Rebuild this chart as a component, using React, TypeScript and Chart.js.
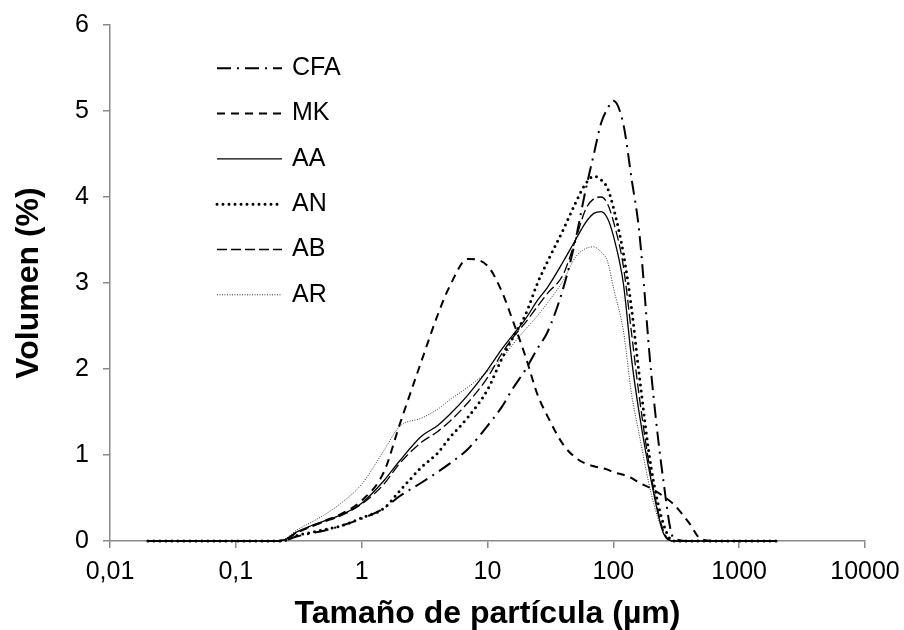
import React, { useEffect, useRef } from 'react';
import { Chart, registerables } from 'chart.js';

Chart.register(...registerables);

// Particle size (µm)
const sizes = [0.02, 0.05, 0.1, 0.2, 0.25, 0.3, 0.4, 0.5, 0.7, 1, 1.5, 2, 3, 4, 5, 7, 10, 13, 16, 20, 25, 30, 40, 50, 60, 70, 80, 90, 100, 120, 140, 160, 200, 250, 300, 400, 500, 700, 1000, 2000];

const seriesNames = ['CFA', 'MK', 'AA', 'AN', 'AB', 'AR'];

const cfa = [0, 0, 0, 0, 0.01, 0.05, 0.09, 0.12, 0.18, 0.26, 0.38, 0.52, 0.68, 0.80, 0.90, 1.07, 1.34, 1.56, 1.78, 1.99, 2.24, 2.43, 2.94, 3.50, 4.07, 4.50, 4.86, 5.03, 5.12, 4.85, 4.20, 3.62, 1.95, 0.70, 0.04, 0, 0, 0, 0, 0];
const mk = [0, 0, 0, 0, 0.02, 0.09, 0.17, 0.23, 0.32, 0.47, 0.80, 1.35, 2.10, 2.62, 2.96, 3.28, 3.20, 2.90, 2.55, 2.15, 1.70, 1.45, 1.12, 0.97, 0.90, 0.87, 0.85, 0.83, 0.80, 0.77, 0.73, 0.68, 0.61, 0.52, 0.43, 0.21, 0.02, 0, 0, 0];
const aa = [0, 0, 0, 0, 0.02, 0.10, 0.18, 0.23, 0.31, 0.44, 0.70, 0.93, 1.22, 1.34, 1.47, 1.70, 1.99, 2.23, 2.40, 2.58, 2.80, 2.95, 3.25, 3.50, 3.70, 3.81, 3.83, 3.75, 3.55, 3.00, 2.10, 1.50, 0.70, 0.09, 0, 0, 0, 0, 0, 0];
const an = [0, 0, 0, 0, 0.01, 0.06, 0.10, 0.13, 0.18, 0.27, 0.38, 0.58, 0.86, 1.02, 1.20, 1.44, 1.76, 2.12, 2.37, 2.63, 3.00, 3.25, 3.62, 3.93, 4.15, 4.24, 4.20, 4.10, 3.88, 3.35, 2.69, 1.95, 0.85, 0.20, 0, 0, 0, 0, 0, 0];
const ab = [0, 0, 0, 0, 0.02, 0.09, 0.17, 0.22, 0.30, 0.43, 0.66, 0.90, 1.15, 1.27, 1.39, 1.61, 1.90, 2.18, 2.37, 2.54, 2.73, 2.88, 3.10, 3.50, 3.85, 3.98, 4.00, 3.92, 3.72, 3.20, 2.40, 1.70, 0.75, 0.12, 0, 0, 0, 0, 0, 0];
const ar = [0, 0, 0, 0, 0.03, 0.12, 0.22, 0.30, 0.45, 0.66, 1.05, 1.33, 1.43, 1.53, 1.64, 1.79, 1.97, 2.12, 2.29, 2.46, 2.62, 2.77, 3.03, 3.30, 3.40, 3.42, 3.36, 3.25, 2.95, 2.45, 1.70, 1.25, 0.55, 0.10, 0, 0, 0, 0, 0, 0];

const xTickValues = [0.01, 0.1, 1, 10, 100, 1000, 10000];
const yTickValues = [0, 1, 2, 3, 4, 5, 6];

const FONT = "'Liberation Sans', Arial, Helvetica, sans-serif";
const AXIS_GRAY = '#898989';

const insideLegend = {
  id: 'insideLegend',
  afterDatasetsDraw(chart: any) {
    const { ctx, chartArea } = chart;
    ctx.save();
    chart.data.datasets.forEach((ds: any, i: number) => {
      const y = chartArea.top + 43.3 + i * 45.3;
      const x0 = chartArea.left + 107;
      const x1 = chartArea.left + 172;
      ctx.beginPath();
      ctx.setLineDash(ds.borderDash || []);
      ctx.lineWidth = ds.borderWidth;
      ctx.lineCap = ds.borderCapStyle || 'butt';
      ctx.strokeStyle = ds.borderColor;
      ctx.moveTo(x0, y);
      ctx.lineTo(x1, y);
      ctx.stroke();
      ctx.setLineDash([]);
      ctx.fillStyle = '#000';
      ctx.font = `25px ${FONT}`;
      ctx.textBaseline = 'middle';
      ctx.textAlign = 'left';
      ctx.fillText(ds.label, chartArea.left + 182, y);
    });
    ctx.restore();
  },
};

export default function App() {
  const ref = useRef<HTMLCanvasElement>(null);

  useEffect(() => {
    if (!ref.current) return;
    const values = [cfa, mk, aa, an, ab, ar];
    const styles = [
      { dash: [14, 6, 2, 6], width: 2, cap: 'butt', color: '#000' },
      { dash: [8, 6], width: 2, cap: 'butt', color: '#000' },
      { dash: [], width: 1.3, cap: 'butt', color: '#000' },
      { dash: [0, 6], width: 3, cap: 'round', color: '#000' },
      { dash: [10, 4], width: 1.3, cap: 'butt', color: '#000' },
      { dash: [1, 1.5], width: 1, cap: 'butt', color: '#333' },
    ];
    const datasets = seriesNames.map((name, i) => ({
      label: name,
      data: sizes.map((x, j) => ({ x, y: values[i][j] })),
      borderColor: styles[i].color,
      borderWidth: styles[i].width,
      borderDash: styles[i].dash,
      borderCapStyle: styles[i].cap,
      pointRadius: 0,
      pointHoverRadius: 0,
      fill: false,
      clip: false,
      cubicInterpolationMode: 'monotone',
    }));

    const chart = new Chart(ref.current, {
      type: 'line',
      data: { datasets } as any,
      options: {
        responsive: false,
        animation: false,
        devicePixelRatio: 1,
        layout: { padding: { top: 25, right: 39, bottom: 0, left: 0 } },
        plugins: { legend: { display: false }, tooltip: { enabled: false } },
        scales: {
          x: {
            type: 'logarithmic',
            min: 0.01,
            max: 10000,
            afterBuildTicks: (s: any) => {
              s.ticks = xTickValues.map((v) => ({ value: v }));
            },
            afterFit: (s: any) => {
              s.height = 89;
              s.paddingLeft = 0;
              s.paddingRight = 0;
            },
            ticks: {
              callback: (v: any) => String(v).replace('.', ','),
              font: { family: FONT, size: 25 },
              color: '#000',
              padding: 9,
              maxRotation: 0,
              autoSkip: false,
            },
            grid: { display: true, drawOnChartArea: false, drawTicks: true, tickLength: 7, color: AXIS_GRAY, lineWidth: 1.5 },
            border: { display: true, color: AXIS_GRAY, width: 1.5 },
            title: {
              display: true,
              text: 'Tamaño de partícula (µm)',
              font: { family: FONT, size: 32, weight: 'bold', lineHeight: 1 },
              color: '#000',
              padding: { top: 0, bottom: 0 },
            },
          },
          y: {
            type: 'linear',
            min: 0,
            max: 6,
            afterBuildTicks: (s: any) => {
              s.ticks = yTickValues.map((v) => ({ value: v }));
            },
            afterFit: (s: any) => {
              s.width = 110;
              s.paddingTop = 0;
              s.paddingBottom = 0;
            },
            ticks: {
              font: { family: FONT, size: 25 },
              color: '#000',
              padding: 14,
            },
            grid: { display: true, drawOnChartArea: false, drawTicks: true, tickLength: 7, color: AXIS_GRAY, lineWidth: 1.5 },
            border: { display: true, color: AXIS_GRAY, width: 1.5 },
            title: {
              display: true,
              text: 'Volumen (%)',
              font: { family: FONT, size: 32, weight: 'bold', lineHeight: 1 },
              color: '#000',
              padding: { top: 13, bottom: 0 },
            },
          },
        },
      } as any,
      plugins: [insideLegend],
    });
    return () => chart.destroy();
  }, []);

  return (
    <div style={{ position: 'absolute', left: 0, top: 0, width: 904, height: 630, background: '#fff' }}>
      <canvas ref={ref} width={904} height={630} style={{ display: 'block' }} />
    </div>
  );
}
